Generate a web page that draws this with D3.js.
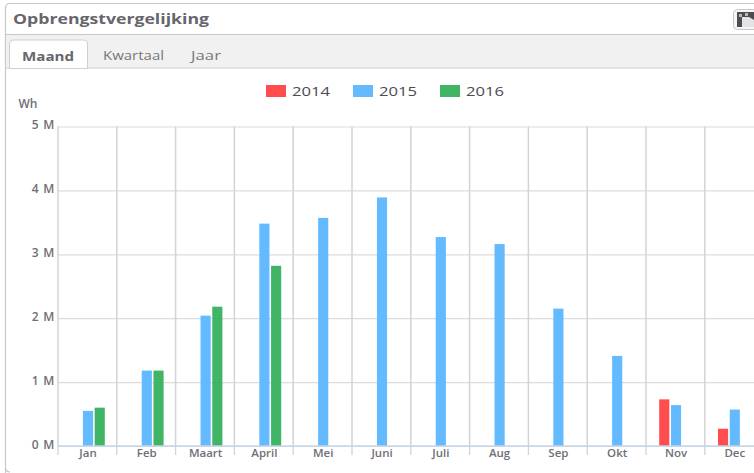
<!DOCTYPE html>
<html>
<head>
<meta charset="utf-8">
<script src="https://cdn.jsdelivr.net/npm/d3@7"></script>
<style>
  html, body { margin: 0; padding: 0; background: #fff; overflow: hidden; }
  text { font-family: "Open Sans", sans-serif; }
</style>
</head>
<body>
<svg id="chart"></svg>
<script>
const width = 754,
  height = 473;

const months = ['Jan', 'Feb', 'Maart', 'April', 'Mei', 'Juni', 'Juli', 'Aug', 'Sep', 'Okt', 'Nov', 'Dec'];
const years = ['2014', '2015', '2016'];
const colors = ['#ff4d4f', '#63baff', '#40b565'];
const yTicks = [0, 1000000, 2000000, 3000000, 4000000, 5000000];
const tabs = ['Maand', 'Kwartaal', 'Jaar'];

// null = no bar that month
const values2014 = [null, null, null, null, null, null, null, null, null, null, 730000, 270000];
const values2015 = [550000, 1180000, 2040000, 3480000, 3570000, 3890000, 3270000, 3160000, 2150000, 1410000, 640000, 570000];
const values2016 = [600000, 1180000, 2180000, 2820000, null, null, null, null, null, null, null, null];
const series = [values2014, values2015, values2016];

const svg = d3.select("#chart")
  .attr("width", width)
  .attr("height", height)
  .style("display", "block");

// panel frame
svg.append("path")
  .attr("d", "M5.5,473 V8 Q5.5,3.5 10,3.5 H754 M5.5,467 Q5.5,472 10,472")
  .attr("fill", "none")
  .attr("stroke", "#c8c8c8")
  .attr("stroke-width", 1.2);
svg.append("text")
  .attr("x", 13).attr("y", 23.5)
  .attr("font-size", 15).attr("font-weight", 700)
  .attr("fill", "#66666c")
  .attr("textLength", 196).attr("lengthAdjust", "spacingAndGlyphs")
  .text("Opbrengstvergelijking");

// tab bar
svg.append("rect").attr("x", 6).attr("y", 35).attr("width", 748).attr("height", 33).attr("fill", "#f1f1f1");
svg.append("line").attr("x1", 6).attr("x2", 754).attr("y1", 34.5).attr("y2", 34.5).attr("stroke", "#c8c8c8").attr("stroke-width", 1.2);
svg.append("line").attr("x1", 6).attr("x2", 754).attr("y1", 68).attr("y2", 68).attr("stroke", "#cfcfcf").attr("stroke-width", 1.2);
svg.append("path")
  .attr("d", "M9.5,68.5 V44 Q9.5,40 14,40 H83 Q87.5,40 87.5,44 V68.5 Z")
  .attr("fill", "#fff")
  .attr("stroke", "#cfcfcf");

const tabX = [22, 103, 191];
const tabLen = [52, 61, 30];
svg.append("g")
  .selectAll("text")
  .data(tabs)
  .join("text")
  .attr("x", (d, i) => tabX[i])
  .attr("y", (d, i) => i === 0 ? 60.5 : 60)
  .attr("font-size", 13)
  .attr("font-weight", (d, i) => i === 0 ? 700 : 400)
  .attr("fill", (d, i) => i === 0 ? "#66666c" : "#77777e")
  .attr("textLength", (d, i) => tabLen[i])
  .attr("lengthAdjust", "spacingAndGlyphs")
  .text(d => d);

// export button, cut off by the window edge
const btn = svg.append("g");
btn.append("rect").attr("x", 733.5).attr("y", 9.5).attr("width", 30).attr("height", 20).attr("rx", 4)
  .attr("fill", "#f6f6f6").attr("stroke", "#c9c9c9");
btn.append("path").attr("d", "M737,12 H754 V27 H737 Z").attr("fill", "#4a4d52");
btn.append("path").attr("d", "M742,17 H749 L754,20 V27 H742 Z").attr("fill", "#e4e4e4");
btn.append("rect").attr("x", 739).attr("y", 14).attr("width", 3).attr("height", 3).attr("fill", "#b9b9b9");
btn.append("rect").attr("x", 745).attr("y", 13).attr("width", 3).attr("height", 3).attr("fill", "#b9b9b9");

// scales
const x = d3.scaleBand()
  .domain(months)
  .range([58, 763.6]);
const x1 = d3.scaleBand()
  .domain(years)
  .range([x.bandwidth() / 2 - 17, x.bandwidth() / 2 + 18.2]);
const y = d3.scaleLinear()
  .domain([0, 5000000])
  .range([446, 126.5]);

// gridlines
svg.append("g")
  .attr("transform", "translate(58,0)")
  .call(d3.axisLeft(y).tickValues(yTicks).tickSize(-(763.6 - 58)).tickFormat(d => `${d / 1000000} M`).tickPadding(3))
  .call(g => g.select(".domain").remove())
  .call(g => g.selectAll(".tick line").attr("stroke", "#dcdcdc").attr("stroke-width", 1.2))
  .call(g => g.selectAll(".tick text")
    .attr("font-size", 12).attr("font-weight", 600).attr("dy", "0.2em")
    .attr("fill", "#6f6f76").style("letter-spacing", "0.7px"));

// vertical separators between months
svg.append("g")
  .selectAll("line")
  .data(months)
  .join("line")
  .attr("x1", d => x(d))
  .attr("x2", d => x(d))
  .attr("y1", y(5000000))
  .attr("y2", y(0))
  .attr("stroke", "#d3d3d3")
  .attr("stroke-width", 1.5);

// bars
svg.append("g")
  .selectAll("g")
  .data(series)
  .join("g")
  .attr("fill", (d, i) => colors[i])
  .each(function (vals, i) {
    d3.select(this)
      .selectAll("rect")
      .data(months.map((m, j) => ({ month: m, value: vals[j] })).filter(d => d.value !== null))
      .join("rect")
      .attr("x", d => x(d.month) + x1(years[i]) + 0.8)
      .attr("width", x1.bandwidth() - 1.6)
      .attr("y", d => y(d.value))
      .attr("height", d => y(0) - y(d.value));
  });

// x axis
svg.append("g")
  .attr("transform", `translate(0.6,${y(0)})`)
  .call(d3.axisBottom(x).tickSize(0).tickPadding(1))
  .call(g => g.select(".domain").remove())
  .call(g => g.selectAll(".tick text")
    .attr("font-size", 11.5).attr("font-weight", 600)
    .attr("fill", "#6f6f76").attr("dy", "0.85em"));
svg.append("line")
  .attr("x1", 58).attr("x2", 754)
  .attr("y1", y(0)).attr("y2", y(0))
  .attr("stroke", "#c5d6e8").attr("stroke-width", 1.3);
svg.append("g")
  .selectAll("line")
  .data(months)
  .join("line")
  .attr("x1", d => x(d))
  .attr("x2", d => x(d))
  .attr("y1", y(0))
  .attr("y2", y(0) + 9)
  .attr("stroke", "#c5d6e8")
  .attr("stroke-width", 1.3);

// y title
svg.append("text")
  .attr("x", 18.5).attr("y", 107.5)
  .attr("font-size", 12).attr("font-weight", 600)
  .attr("fill", "#6f6f76")
  .text("Wh");

// legend
const legendX = d3.scalePoint().domain(years).range([266, 440]);
const legend = svg.append("g")
  .selectAll("g")
  .data(years)
  .join("g")
  .attr("transform", d => `translate(${legendX(d)},85)`);
legend.append("rect")
  .attr("width", 20).attr("height", 12)
  .attr("fill", (d, i) => colors[i]);
legend.append("text")
  .attr("x", 26).attr("y", 11)
  .attr("font-size", 13)
  .attr("fill", "#4a4a50")
  .attr("textLength", 38).attr("lengthAdjust", "spacingAndGlyphs")
  .text(d => d);
</script>
</body>
</html>
